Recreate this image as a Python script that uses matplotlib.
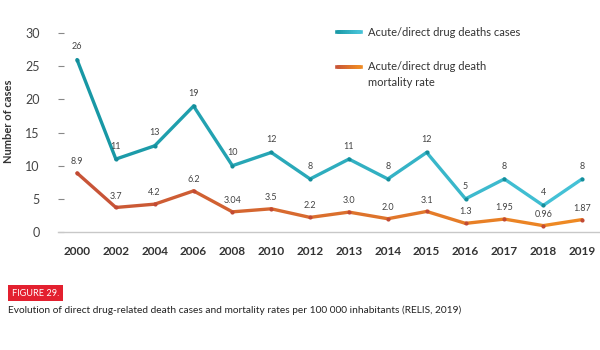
import numpy as np
import matplotlib
matplotlib.use("Agg")
import matplotlib.pyplot as plt
from matplotlib.collections import LineCollection
from matplotlib.colors import to_rgb

years = ["2000", "2002", "2004", "2006", "2008", "2010", "2012", "2013",
         "2014", "2015", "2016", "2017", "2018", "2019"]
cases = [26, 11, 13, 19, 10, 12, 8, 11, 8, 12, 5, 8, 4, 8]
rate = [8.9, 3.7, 4.2, 6.2, 3.04, 3.5, 2.2, 3.0, 2.0, 3.1, 1.3, 1.95, 0.96, 1.87]
rate_labels = ["8.9", "3.7", "4.2", "6.2", "3.04", "3.5", "2.2", "3.0", "2.0",
               "3.1", "1.3", "1.95", "0.96", "1.87"]
case_labels = [str(v) for v in cases]
yticks = [0, 5, 10, 15, 20, 25, 30]

plt.rcParams['font.family'] = ['Lato', 'DejaVu Sans']

W, H = 600, 350
fig = plt.figure(figsize=(6, 3.5), dpi=100)
left, right, bottom, top = 58, 600, 232, 10
ax = fig.add_axes([left / W, 1 - bottom / H, (right - left) / W, (bottom - top) / H])

x = np.arange(len(years))
ax.set_xlim((left - 77) / 38.85, (right - 77) / 38.85)
ax.set_ylim(0, (bottom - top) / 6.63)


def blend(c1, c2, t):
    a, b = np.array(to_rgb(c1)), np.array(to_rgb(c2))
    return tuple(a + (b - a) * t)


def grad_line(xs, ys, c1, c2, mcol):
    pts = np.column_stack([xs, ys])
    segs = [pts[i:i + 2] for i in range(len(pts) - 1)]
    n = len(segs)
    cols = [blend(c1, c2, (i + 0.5) / n) for i in range(n)]
    lc = LineCollection(segs, colors=cols, linewidths=2.4, capstyle='round',
                        joinstyle='round', zorder=3)
    ax.add_collection(lc)
    ax.scatter(xs, ys, s=9, color=mcol, zorder=4, linewidths=0)


grad_line(x, cases, "#1696a3", "#46c3d8", "#158d9a")
grad_line(x, rate, "#c65238", "#f08b22", "#c24a34")

for xi, v, lab in zip(x, cases, case_labels):
    ax.annotate(lab, (xi, v), xytext=(0, 6), textcoords='offset points',
                ha='center', va='bottom', fontsize=6.5, color='#444444')
for xi, v, lab in zip(x, rate, rate_labels):
    ax.annotate(lab, (xi, v), xytext=(0, 5), textcoords='offset points',
                ha='center', va='bottom', fontsize=6.5, color='#444444')

for s in ['left', 'right', 'top']:
    ax.spines[s].set_visible(False)
ax.spines['bottom'].set_color('#c8c8c8')
ax.spines['bottom'].set_linewidth(1)

ax.set_yticks(yticks)
ax.set_yticklabels([str(t) for t in yticks], fontsize=9, color='#444444')
ax.tick_params(axis='y', direction='in', length=4, width=0.8, color='#888888', pad=13)
ax.set_xticks(x)
ax.set_xticklabels(years, fontsize=8.5, fontweight='bold', color='#333333')
ax.tick_params(axis='x', length=0, pad=10)
ax.set_ylabel("Number of cases", fontsize=8, fontweight='bold', color='#333333', labelpad=8)


# legend with gradient strokes
def fig_grad(x0, x1, y, c1, c2):
    n = 12
    xs = np.linspace(x0, x1, n + 1)
    segs = [[(xs[i] / W, 1 - y / H), (xs[i + 1] / W, 1 - y / H)] for i in range(n)]
    cols = [blend(c1, c2, (i + 0.5) / n) for i in range(n)]
    lc = LineCollection(segs, colors=cols, linewidths=2.6, capstyle='projecting',
                        transform=fig.transFigure)
    fig.add_artist(lc)


fig_grad(337, 361, 32, "#1696a3", "#46c3d8")
fig.text(368 / W, 1 - 32 / H, "Acute/direct drug deaths cases", fontsize=8,
         color='#333333', va='center', ha='left')
fig_grad(337, 361, 67, "#c65238", "#f08b22")
fig.text(368 / W, 1 - 67 / H, "Acute/direct drug death", fontsize=8,
         color='#333333', va='center', ha='left')
fig.text(368 / W, 1 - 82 / H, "mortality rate", fontsize=8,
         color='#333333', va='center', ha='left')

# caption
fig.text(12 / W, 1 - 293 / H, "FIGURE 29.", fontsize=6.6, color='white', va='center', ha='left',
         bbox=dict(boxstyle='square,pad=0.4', fc='#e3202f', ec='none'))
fig.text(8 / W, 1 - 310 / H,
         "Evolution of direct drug-related death cases and mortality rates per 100 000 inhabitants (RELIS, 2019)",
         fontsize=7.3, color='#222222', va='center', ha='left')

fig.savefig("out.png", dpi=100, facecolor='white')
